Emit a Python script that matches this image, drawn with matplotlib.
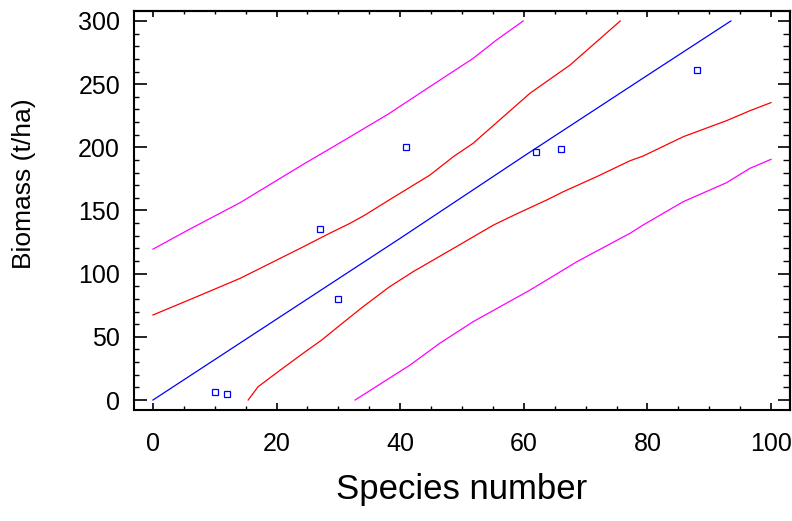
"""Biomass vs species number: fitted line with confidence and prediction limits."""

import matplotlib
matplotlib.use("Agg")
import matplotlib.pyplot as plt
from matplotlib.ticker import MultipleLocator

plt.rcParams["font.family"] = ["Liberation Sans", "DejaVu Sans"]

# observed points
species = [10, 12, 27, 30, 41, 62, 66, 88]
biomass = [6, 5, 135, 80, 200, 196, 199, 261]

# fitted line
fit_x = [0, 20, 40, 60, 80, 93.5]
fit_y = [0, 64, 128, 193, 257, 300]

# 95% confidence limits
conf_hi_x = [0, 7.1, 14.1, 23.8, 28.6, 31.9, 34.3, 38.2, 44.8, 48.6, 51.8,
             61, 67.5, 75.6]
conf_hi_y = [67.3, 81.8, 96.3, 120, 132, 139.9, 146.4, 158.3, 178, 192.6,
             203.2, 242.8, 265.2, 300]
conf_lo_x = [15.4, 17.0, 20.6, 24.3, 27.3, 30.3, 34.0, 38.3, 42.1, 49.1, 55.1,
             58.7, 63.7, 66.4, 71.8, 77.2, 79.3, 85.8, 92.8, 96.6, 100]
conf_lo_y = [0, 10.5, 23.7, 37, 47.5, 59.4, 73.9, 89.7, 101.6, 121.4, 138.5,
             147, 158.3, 164.9, 176.8, 189.4, 193.1, 208.4, 221.1, 229, 235.4]

# 95% prediction limits
pred_hi_x = [0, 5.7, 14.1, 24.3, 30.3, 38.1, 44.8, 51.8, 55.6, 59.9]
pred_hi_y = [119.4, 134.6, 156.2, 186.5, 203.7, 226.4, 248, 270.4, 285, 300]
pred_lo_x = [32.7, 41.6, 46.4, 51.8, 61, 68.6, 77.2, 79.3, 85.8, 92.8, 96.6,
             100]
pred_lo_y = [0, 27.7, 44.9, 62, 87, 109.5, 132, 138.5, 157, 172, 183.4, 190.5]

fig = plt.figure(figsize=(7.92, 5.21), dpi=100)
ax = fig.add_axes([134 / 792, 111 / 521, 656 / 792, 399 / 521])

ax.plot(pred_hi_x, pred_hi_y, color="#ff00ff", lw=0.9)
ax.plot(pred_lo_x, pred_lo_y, color="#ff00ff", lw=0.9)
ax.plot(conf_hi_x, conf_hi_y, color="#ff0000", lw=0.9)
ax.plot(conf_lo_x, conf_lo_y, color="#ff0000", lw=0.9)
ax.plot(fit_x, fit_y, color="#0000ff", lw=0.9)
ax.plot(species, biomass, ls="none", marker="s", ms=4.5, mfc="none",
        mec="#0000ff", mew=0.9)

ax.set_xlim(-3.07, 103.07)
ax.set_ylim(-7.9, 307.9)

ax.xaxis.set_major_locator(MultipleLocator(20))
ax.xaxis.set_minor_locator(MultipleLocator(5))
ax.yaxis.set_major_locator(MultipleLocator(50))
ax.yaxis.set_minor_locator(MultipleLocator(10))

for s in ax.spines.values():
    s.set_linewidth(1.5)

ax.tick_params(axis="x", which="major", direction="in", length=5, width=1.2,
               labelsize=18, pad=16)
ax.tick_params(axis="x", which="minor", direction="in", length=2.7, width=1)
ax.tick_params(axis="y", which="major", direction="in", length=9, width=1.2,
               labelsize=18, pad=10)
ax.tick_params(axis="y", which="minor", direction="in", length=3.7, width=1)

# ticks on top and right edges (different lengths)
top = ax.secondary_xaxis("top")
top.xaxis.set_major_locator(MultipleLocator(20))
top.xaxis.set_minor_locator(MultipleLocator(5))
top.tick_params(which="major", direction="in", length=4, width=1.2,
                labeltop=False)
top.tick_params(which="minor", direction="in", length=2.2, width=1)
top.spines["top"].set_linewidth(1.5)

right = ax.secondary_yaxis("right")
right.yaxis.set_major_locator(MultipleLocator(50))
right.yaxis.set_minor_locator(MultipleLocator(10))
right.tick_params(which="major", direction="in", length=8.5, width=1.2,
                  labelright=False)
right.tick_params(which="minor", direction="in", length=4.8, width=1)
right.spines["right"].set_linewidth(1.5)

fig.text(462 / 792, 1 - 490 / 521, "Species number", fontsize=25,
         ha="center", va="center")
fig.text(24 / 792, 1 - 184 / 521, "Biomass (t/ha)", fontsize=19,
         rotation=90, ha="center", va="center")

fig.savefig("out.png", dpi=100)
